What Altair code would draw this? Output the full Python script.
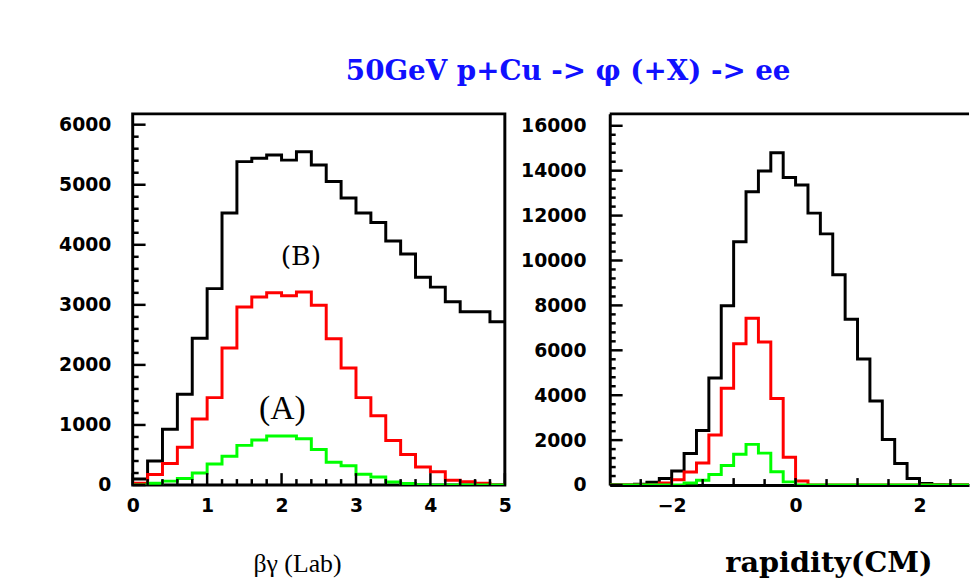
import altair as alt
import pandas as pd

BIN_W = 0.2

# ---- left panel: beta*gamma (Lab), 25 bins of 0.2 from 0 to 5
lab_start = 0.0
lab_black = [100, 400, 930, 1510, 2445, 3270, 4530, 5385, 5440, 5495, 5410, 5550, 5330,
             5055, 4780, 4530, 4370, 4065, 3845, 3460, 3295, 3050, 2885, 2885, 2720]
lab_red = [30, 175, 360, 630, 1100, 1455, 2280, 2965, 3130, 3200, 3150, 3215, 2995,
           2435, 1950, 1455, 1155, 740, 510, 300, 220, 80, 55, 30, 0]
lab_green = [0, 30, 65, 110, 200, 350, 480, 660, 750, 815, 815, 770, 590,
             380, 320, 180, 135, 50, 25, 5, 0, 0, 0, 0, 0]

# ---- right panel: rapidity (CM), 30 bins of 0.2 from -3 to 3
cm_start = -3.0
cm_black = [0, 0, 30, 120, 290, 620, 1400, 2430, 4770, 7980, 10830, 13060, 13990, 14800, 13700,
            13360, 12110, 11185, 9365, 7385, 5610, 3745, 2025, 955, 290, 70, 15, 0, 0, 0]
cm_red = [0, 0, 0, 0, 90, 230, 580, 980, 2230, 4310, 6290, 7430, 6365, 3850, 1240,
          180, 0, 0, 0, 0, 0, 0, 0, 0, 0, 0, 0, 0, 0, 0]
cm_green = [0, 0, 0, 0, 0, 0, 90, 210, 470, 870, 1370, 1810, 1420, 590, 140,
            0, 0, 0, 0, 0, 0, 0, 0, 0, 0, 0, 0, 0, 0, 0]

series_names = ["black", "red", "green"]
series_colors = ["#000000", "#ff0000", "#00ff00"]

# tick values
lab_x_labels = [0, 1, 2, 3, 4, 5]
lab_y_labels = [0, 1000, 2000, 3000, 4000, 5000, 6000]
lab_x_minor = [round(i * 0.2, 1) for i in range(26)]
lab_y_minor = [i * 200 for i in range(31)]
cm_x_labels = [-2, 0, 2]
cm_x_minor = [-2.5, -2, -1.5, -1, -0.5, 0, 0.5, 1, 1.5, 2, 2.5]
cm_y_labels = [0, 2000, 4000, 6000, 8000, 10000, 12000, 14000, 16000]
cm_y_minor = [i * 400 for i in range(41)]

# annotations in the left panel
ann_text = ["(B)", "(A)"]
ann_x = [2.26, 2.01]
ann_y = [3790, 1270]

title_text = "50GeV p+Cu -> \u03c6 (+X) -> ee"

W1, W2, H = 376, 363, 375
TICK_FONT = "DejaVu Sans"


def hist_rows(start, vals, name):
    rows = []
    for i, v in enumerate(vals):
        rows.append({"x": round(start + i * BIN_W, 4), "y": v, "s": name})
    rows.append({"x": round(start + len(vals) * BIN_W, 4), "y": vals[-1], "s": name})
    return rows


def panel(start, data, xdom, ydom, xlabels, ylabels, xminor, yminor, xmajor_len,
          ymajor_every, width, xtitle, titleX, labelPad, framed):
    xs = alt.Scale(domain=xdom, nice=False, zero=False)
    ys = alt.Scale(domain=ydom, nice=False, zero=False)
    xaxis = alt.Axis(
        values=xlabels, ticks=False, grid=False, domain=not framed, domainWidth=3,
        domainColor="black", labelFont=TICK_FONT, labelFontWeight="bold", labelFontSize=19,
        labelColor="black", labelPadding=12, labelFlush=False, format="d", title=xtitle,
        titleFont="Liberation Serif" if framed else "DejaVu Serif",
        titleFontSize=26 if framed else 29,
        titleFontWeight="normal" if framed else "bold", titleColor="black",
        titleX=titleX, titleY=87, titleAlign="center", titleBaseline="alphabetic")
    yaxis = alt.Axis(
        values=ylabels, ticks=False, grid=False, domain=not framed, domainWidth=3,
        domainColor="black", labelFont=TICK_FONT, labelFontWeight="bold", labelFontSize=19,
        labelColor="black", labelPadding=labelPad, minExtent=100, format="d", title=None)
    X = lambda: alt.X("x:Q", scale=xs, axis=xaxis)
    Y = lambda: alt.Y("y:Q", scale=ys, axis=yaxis)

    rows = []
    for name, vals in zip(series_names, data):
        rows += hist_rows(start, vals, name)
    df = pd.DataFrame(rows)

    lines = alt.Chart(df).mark_line(interpolate="step-after", strokeWidth=3, clip=True).encode(
        x=X(), y=Y(),
        color=alt.Color("s:N", scale=alt.Scale(domain=series_names, range=series_colors),
                        legend=None),
        detail="s:N",
    )

    ymaj = pd.DataFrame({"y": [v for v in yminor if v % ymajor_every == 0]})
    ymin = pd.DataFrame({"y": [v for v in yminor if v % ymajor_every != 0]})
    xmaj = pd.DataFrame({"x": [v for v in xminor if float(v).is_integer()]})
    xmin = pd.DataFrame({"x": [v for v in xminor if not float(v).is_integer()]})

    def yt(d, ln):
        return alt.Chart(d).mark_rule(color="black", strokeWidth=2.5).encode(
            y=Y(), x=alt.value(0), x2=alt.value(ln))

    def xt(d, ln):
        return alt.Chart(d).mark_rule(color="black", strokeWidth=2.5).encode(
            x=X(), y=alt.value(H), y2=alt.value(H - ln))

    layers = [lines, yt(ymaj, 13), yt(ymin, 6), xt(xmaj, xmajor_len), xt(xmin, 6)]
    if not framed:
        top = alt.Chart(pd.DataFrame({"y": [0]})).mark_rule(color="black", strokeWidth=3).encode(
            x=alt.value(0), x2=alt.value(width), y=alt.value(0))
        layers.append(top)
    return layers, X, Y


lab_layers, LX, LY = panel(lab_start, [lab_black, lab_red, lab_green], [0, 5], [0, 6180],
                           lab_x_labels, lab_y_labels, lab_x_minor, lab_y_minor, 12, 1000,
                           W1, "\u03b2\u03b3 (Lab)", 166, 22, True)

ann = pd.DataFrame({"t": ann_text, "x": ann_x, "y": ann_y})
annB = alt.Chart(ann[ann.t == "(B)"]).mark_text(font="DejaVu Serif", fontSize=27,
                                                  baseline="middle", color="black").encode(
    x=LX(), y=LY(), text="t:N")
annA = alt.Chart(ann[ann.t == "(A)"]).mark_text(font="Liberation Serif", fontSize=34,
                                                  baseline="middle", color="black").encode(
    x=LX(), y=LY(), text="t:N")

left = alt.layer(*lab_layers, annB, annA).properties(
    width=W1, height=H, view=alt.ViewBackground(stroke="black", strokeWidth=3))

cm_layers, _, _ = panel(cm_start, [cm_black, cm_red, cm_green], [-3, 2.80], [0, 16530],
                        cm_x_labels, cm_y_labels, cm_x_minor, cm_y_minor, 7, 2000,
                        W2, "rapidity(CM)", 221, 24, False)
right = alt.layer(*cm_layers).properties(
    width=W2, height=H, view=alt.ViewBackground(stroke="transparent", strokeWidth=0))

chart = alt.hconcat(left, right, spacing=106, bounds="flush").properties(
    title=alt.TitleParams(title_text, font="DejaVu Serif", fontSize=28, fontWeight="bold",
                          color="#1010ff", anchor="start", align="center", dx=440,
                          frame="group", baseline="alphabetic", offset=5),
    padding={"left": 24, "top": 47, "right": 0, "bottom": 0},
    background="white",
).configure_view(stroke="transparent")

chart.save("out.html", embed_options={"renderer": "svg", "actions": False})
